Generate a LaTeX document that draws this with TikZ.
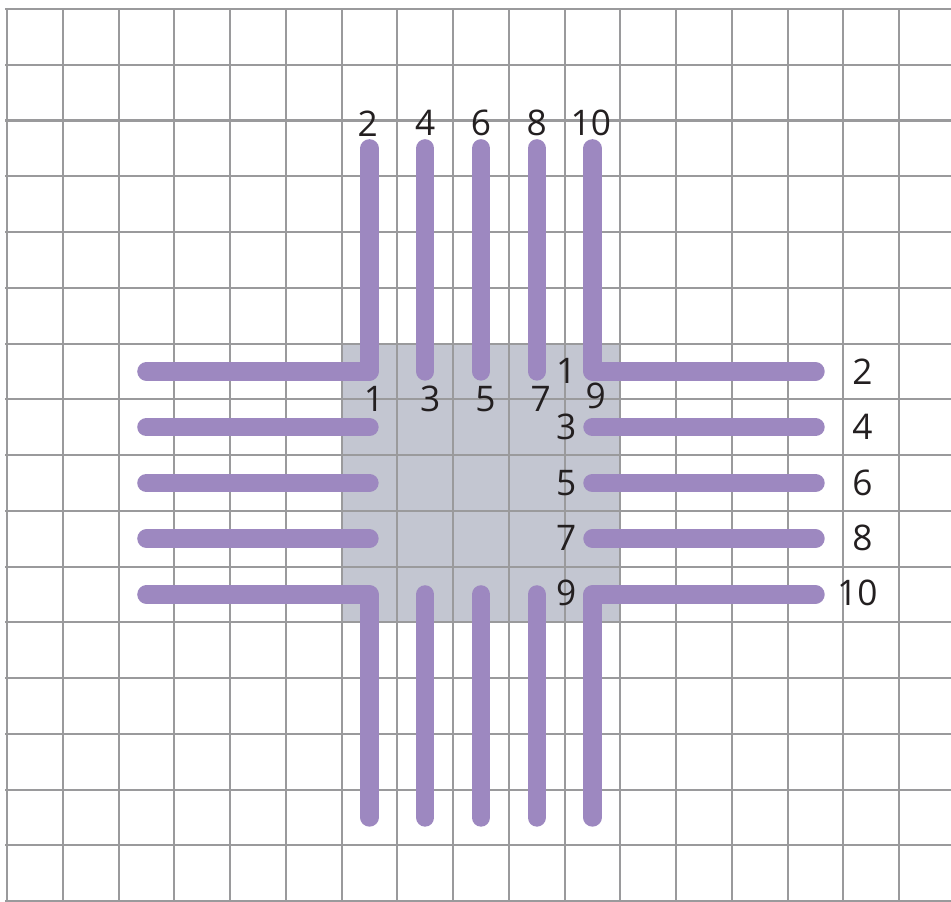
\documentclass[tikz,border=0pt]{standalone}
\usepackage{fontspec}
\setmainfont{Open Sans}
\usepackage{xcolor}
\usepackage{tikz}
\definecolor{ink}{HTML}{231F20}
\definecolor{rule}{HTML}{9A9A9C}
\definecolor{thread}{HTML}{9D88C0}
\definecolor{patchfill}{HTML}{C3C6D1}
\tikzset{
  gridline/.style={draw=rule,line width=1.05pt},
  patch/.style={fill=patchfill,draw=none},
  stitch/.style={draw=thread,line width=0.33cm,line cap=round,line join=round},
  num/.style={text=ink,inner sep=0pt,anchor=center,font=\fontsize{18}{20}\selectfont}
}

\begin{document}
\begin{tikzpicture}[x=1cm,y=-1cm]
  \useasboundingbox (-0.126,-0.161) rectangle (16.93,16.0);
  % shaded centre
  \fill[patch] (6,6) rectangle (11,11);
  % grid
  \foreach \i in {0,...,16} \draw[gridline] (\i,0) -- (\i,16.05);
  \foreach \j in {0,...,16} \draw[gridline] (-0.03,\j) -- (16.93,\j);
  % stitches
  \draw[stitch] (6.5,2.5) -- (6.5,6.5) -- (2.5,6.5);
  \draw[stitch] (10.5,2.5) -- (10.5,6.5) -- (14.5,6.5);
  \draw[stitch] (2.5,10.5) -- (6.5,10.5) -- (6.5,14.5);
  \draw[stitch] (14.5,10.5) -- (10.5,10.5) -- (10.5,14.5);
  \foreach \k in {7.5,8.5,9.5} {
    \draw[stitch] (\k,2.5) -- (\k,6.5);
    \draw[stitch] (\k,10.5) -- (\k,14.5);
    \draw[stitch] (2.5,\k) -- (6.5,\k);
    \draw[stitch] (10.5,\k) -- (14.5,\k);
  }
  % numbers above
  \foreach \n/\x in {2/6.47,4/7.5,6/8.5,8/9.5,10/10.47}
    \node[num] (top\n) at (\x,2.05) {\n};
  % numbers inside, under the top row
  \foreach \n/\x/\y in {1/6.58/6.99,3/7.59/6.99,5/8.58/6.99,7/9.57/6.99,9/10.56/6.94}
    \node[num] (in\n) at (\x,\y) {\n};
  % numbers inside, left of the right row
  \foreach \n/\y in {1/6.5,3/7.5,5/8.5,7/9.48,9/10.48}
    \node[num] (side\n) at (10.03,\y) {\n};
  % numbers on the right
  \foreach \n/\y in {2/6.5,4/7.5,6/8.5,8/9.48}
    \node[num] (out\n) at (15.34,\y) {\n};
  \node[num] (out10) at (15.25,10.48) {10};
\end{tikzpicture}
\end{document}
